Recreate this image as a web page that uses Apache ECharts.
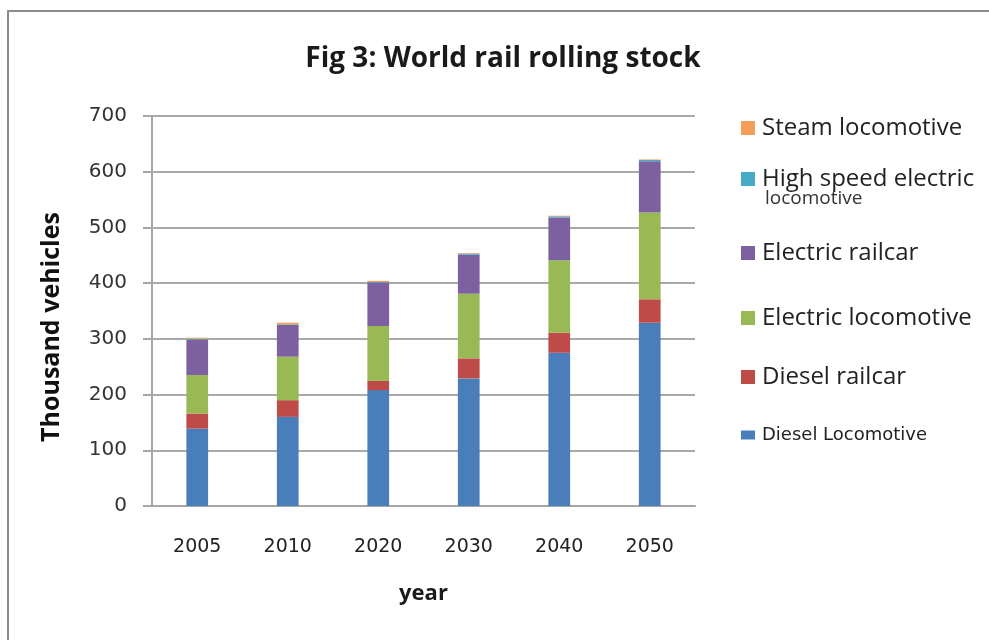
<!DOCTYPE html>
<html>
<head>
<meta charset="utf-8">
<title>World rail rolling stock</title>
<script src="https://cdn.jsdelivr.net/npm/echarts@6/dist/echarts.min.js"></script>
<style>
  html, body { margin: 0; padding: 0; background: #ffffff; }
  #chart { width: 989px; height: 640px; }
</style>
</head>
<body>
<div id="chart"></div>
<script>
// Years on the category axis
const years = ['2005', '2010', '2020', '2030', '2040', '2050'];

// Stacked rolling stock (thousand vehicles), bottom to top
const dieselLocomotive = [139, 160, 208, 229, 275, 329];
const dieselRailcar = [27, 30, 17, 36, 36, 42];
const electricLocomotive = [69, 78, 98, 116, 130, 156];
const electricRailcar = [63, 57, 78, 70, 77, 92];
const highSpeedElectric = [2, 1, 1, 2, 2, 2];
const steamLocomotive = [2, 3, 2, 1, 1, 1];

// Y axis ticks
const yMin = 0;
const yMax = 700;
const yStep = 100;

const chart = echarts.init(document.getElementById('chart'), null, { renderer: 'canvas' });

const seriesDefs = [
  { name: 'Diesel Locomotive', data: dieselLocomotive, color: '#4a7ebb' },
  { name: 'Diesel railcar', data: dieselRailcar, color: '#be4b48' },
  { name: 'Electric locomotive', data: electricLocomotive, color: '#98b954' },
  { name: 'Electric railcar', data: electricRailcar, color: '#7d60a0' },
  { name: 'High speed electric locomotive', data: highSpeedElectric, color: '#46aac5' },
  { name: 'Steam locomotive', data: steamLocomotive, color: '#f59d56' }
];

// One legend block per entry so each can sit at its own height
const legendRows = [
  { name: 'Steam locomotive', center: 128, font: 'Open Sans', size: 24, w: 14, h: 14 },
  { name: 'High speed electric locomotive', center: 179, font: 'Open Sans', size: 24, w: 14, h: 14, label: 'High speed electric' },
  { name: 'Electric railcar', center: 253, font: 'Open Sans', size: 24, w: 14, h: 14 },
  { name: 'Electric locomotive', center: 318, font: 'Open Sans', size: 24, w: 14, h: 14 },
  { name: 'Diesel railcar', center: 377, font: 'Open Sans', size: 24, w: 14, h: 14 },
  { name: 'Diesel Locomotive', center: 435, font: 'DejaVu Sans', size: 18, w: 14, h: 9 }
];

const legends = legendRows.map(r => {
  const lh = r.size + 4;
  return {
    data: [r.name],
    left: 741,
    top: r.center - lh / 2,
    padding: 0,
    itemWidth: r.w,
    itemHeight: r.h,
    itemGap: 0,
    icon: 'rect',
    selectedMode: false,
    formatter: () => r.label || r.name,
    textStyle: {
      fontFamily: r.font,
      fontSize: r.size,
      lineHeight: lh,
      color: '#222222',
      padding: [0, 0, 0, 2]
    }
  };
});

const option = {
  backgroundColor: '#ffffff',
  animation: false,
  title: {
    text: 'Fig 3: World rail rolling stock',
    left: 498,
    textAlign: 'center',
    top: 40,
    textStyle: {
      fontFamily: 'Open Sans',
      fontWeight: 'bold',
      fontSize: 28,
      color: '#1a1a1a'
    }
  },
  legend: legends,
  grid: {
    left: 152,
    right: 294,
    top: 116,
    bottom: 134,
    containLabel: false
  },
  xAxis: {
    type: 'category',
    data: years,
    name: 'year',
    nameLocation: 'middle',
    nameGap: 77,
    nameTextStyle: {
      fontFamily: 'Open Sans',
      fontWeight: 'bold',
      fontSize: 22,
      color: '#1a1a1a'
    },
    axisLine: { show: true, lineStyle: { color: '#a6a6a6', width: 2 } },
    axisTick: { show: false },
    axisLabel: {
      fontFamily: 'DejaVu Sans',
      fontSize: 19,
      color: '#222222',
      margin: 32
    }
  },
  yAxis: {
    type: 'value',
    min: yMin,
    max: yMax,
    interval: yStep,
    name: 'Thousand vehicles',
    nameLocation: 'middle',
    nameGap: 88,
    nameRotate: 90,
    nameTextStyle: {
      fontFamily: 'Open Sans',
      fontWeight: 'bold',
      fontSize: 25,
      color: '#111111',
      padding: [0, 32, 0, 0]
    },
    axisLine: { show: true, lineStyle: { color: '#a6a6a6', width: 2 } },
    axisTick: { show: true, inside: false, length: 9, lineStyle: { color: '#a6a6a6', width: 2 } },
    axisLabel: {
      fontFamily: 'DejaVu Sans',
      fontSize: 20,
      color: '#333333',
      margin: 25
    },
    splitLine: { show: true, lineStyle: { color: '#a9a9a9', width: 2 } }
  },
  series: seriesDefs.map(s => ({
    name: s.name,
    type: 'bar',
    stack: 'stock',
    data: s.data,
    barWidth: '24%',
    itemStyle: { color: s.color },
    emphasis: { disabled: true }
  })),
  graphic: [
    {
      type: 'rect',
      silent: true,
      shape: { x: 8, y: 11, width: 1000, height: 700 },
      style: { fill: 'none', stroke: '#8c8c8c', lineWidth: 2 }
    },
    {
      type: 'text',
      silent: true,
      left: 765,
      top: 189,
      style: {
        text: 'locomotive',
        fontFamily: 'Open Sans',
        fontSize: 19,
        fill: '#333333'
      }
    }
  ]
};

chart.setOption(option);
</script>
</body>
</html>
